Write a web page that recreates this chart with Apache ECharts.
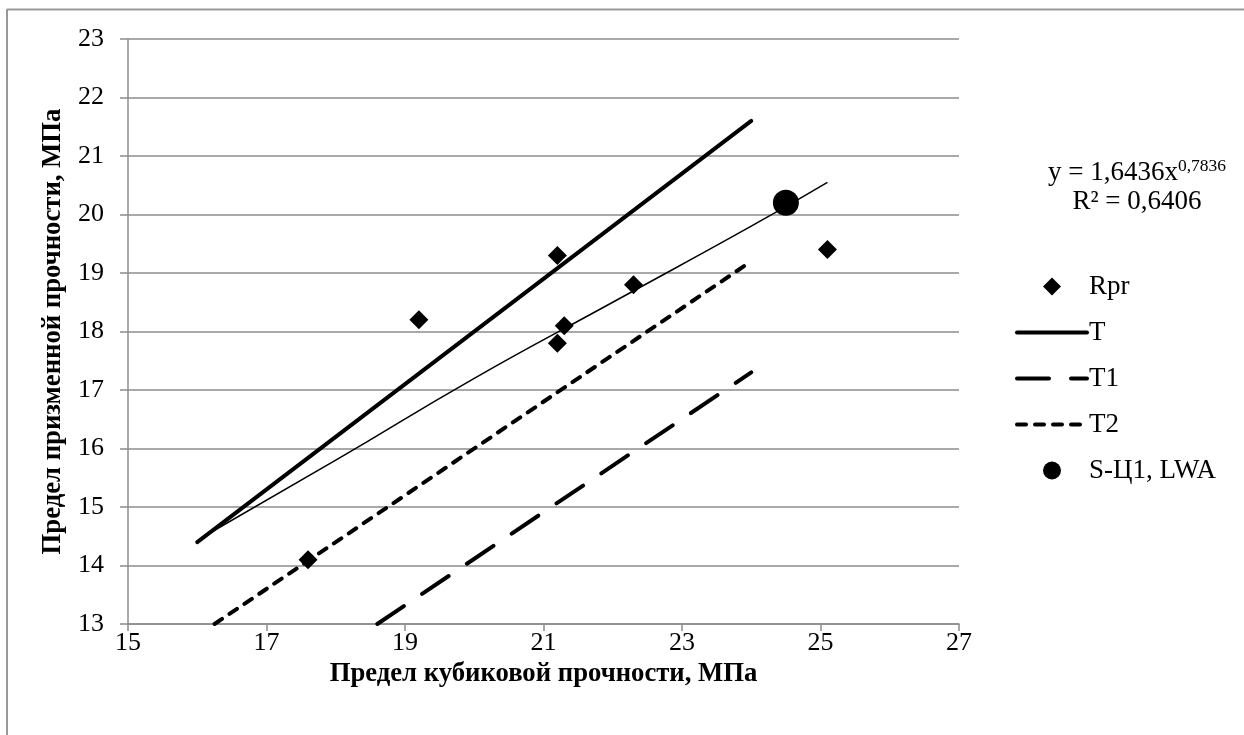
<!DOCTYPE html>
<html>
<head>
<meta charset="utf-8">
<script src="https://cdn.jsdelivr.net/npm/echarts@6/dist/echarts.min.js"></script>
<style>
  html, body { margin: 0; padding: 0; background: #fff; }
  #myChart { width: 1244px; height: 735px; }
</style>
</head>
<body>
<div id="myChart"></div>
<script>
// точки Rpr (куб / призма)
var rprData = [[17.6, 14.1], [19.2, 18.2], [21.2, 19.3], [21.3, 18.1], [21.2, 17.8], [22.3, 18.8], [25.1, 19.4]];
// линии T, T1, T2 (концы отрезков)
var tData = [[16, 14.4], [24, 21.6]];
var t1Data = [[18.6, 13], [24, 17.3]];
var t2Data = [[16.25, 13], [24, 19.2]];
// степенной тренд, значения
var trendData = [[16.1, 14.5], [18, 15.8], [20, 17.2], [22, 18.5], [24, 19.8], [25.1, 20.55]];
// S-Ц1, LWA
var lwaData = [[24.5, 20.2]];

var xTicks = { min: 15, max: 27, interval: 2 };
var yTicks = { min: 13, max: 23, interval: 1 };

var font = '"Liberation Serif", "Times New Roman", serif';
var gridColor = '#8c8c8c';
var noMarker = { color: 'transparent', borderWidth: 0 };

var tStyle = { color: '#000', width: 4, cap: 'round' };
var t1Style = { color: '#000', width: 4, type: [32, 22], cap: 'round' };
var t2Style = { color: '#000', width: 4, type: [9, 9], cap: 'round' };

var myChart = echarts.init(document.getElementById('myChart'));
var option = {
  animation: false,
  textStyle: { fontFamily: font, color: '#000' },
  grid: { left: 128, top: 39, right: 285, bottom: 111 },
  xAxis: {
    type: 'value',
    min: xTicks.min, max: xTicks.max, interval: xTicks.interval,
    name: 'Предел кубиковой прочности, МПа',
    nameLocation: 'middle',
    nameGap: 26,
    nameTextStyle: { fontFamily: font, fontSize: 26.7, fontWeight: 'bold', color: '#000' },
    axisLine: { show: true, lineStyle: { color: gridColor, width: 1.5 } },
    axisTick: { show: true, length: 7, lineStyle: { color: gridColor, width: 1.5 } },
    axisLabel: { fontFamily: font, fontSize: 26, color: '#000', margin: 6 },
    splitLine: { show: false }
  },
  yAxis: {
    type: 'value',
    min: yTicks.min, max: yTicks.max, interval: yTicks.interval,
    name: 'Предел призменной прочности, МПа',
    nameLocation: 'middle',
    nameGap: 60,
    nameRotate: 90,
    nameTextStyle: { fontFamily: font, fontSize: 26.7, fontWeight: 'bold', color: '#000' },
    axisLine: { show: true, lineStyle: { color: gridColor, width: 1.5 } },
    axisTick: { show: true, length: 8, lineStyle: { color: gridColor, width: 1.5 } },
    axisLabel: { fontFamily: font, fontSize: 26, color: '#000', margin: 24 },
    splitLine: { show: true, lineStyle: { color: gridColor, width: 1.5 } }
  },
  legend: {
    orient: 'vertical',
    left: 1010,
    top: 268,
    itemWidth: 70,
    itemHeight: 18,
    itemGap: 19,
    textStyle: { fontFamily: font, fontSize: 27, color: '#000', padding: [0, 0, 0, -3] },
    data: [
      { name: 'Rpr', icon: 'path://M0,-1L1,0L0,1L-1,0Z' },
      { name: 'T', itemStyle: noMarker, lineStyle: tStyle },
      { name: 'T1', itemStyle: noMarker, lineStyle: t1Style },
      { name: 'T2', itemStyle: noMarker, lineStyle: t2Style },
      { name: 'S-Ц1, LWA', icon: 'circle' }
    ]
  },
  graphic: [
    { type: 'line', shape: { x1: 7, y1: 9.5, x2: 1244, y2: 9.5 }, style: { stroke: '#999', lineWidth: 2 } },
    { type: 'line', shape: { x1: 7, y1: 9, x2: 7, y2: 735 }, style: { stroke: '#999', lineWidth: 2 } },
    {
      type: 'text', x: 1137, y: 173,
      style: {
        text: '{b|y = 1,6436x}{s|0,7836}',
        align: 'center', verticalAlign: 'middle',
        rich: {
          b: { fontFamily: font, fontSize: 27, fill: '#000' },
          s: { fontFamily: font, fontSize: 17.5, fill: '#000', padding: [0, 0, 14, 0] }
        }
      }
    },
    {
      type: 'text', x: 1137, y: 202,
      style: { text: 'R² = 0,6406', font: '27px ' + font, fill: '#000', align: 'center', verticalAlign: 'middle' }
    }
  ],
  series: [
    {
      name: 'trend',
      type: 'line',
      data: trendData,
      symbol: 'none',
      smooth: true,
      lineStyle: { color: '#000', width: 1.5 },
      z: 3
    },
    {
      name: 'T',
      type: 'line',
      data: tData,
      symbol: 'none',
      lineStyle: tStyle,
      itemStyle: { color: '#000' },
      z: 3
    },
    {
      name: 'T1',
      type: 'line',
      data: t1Data,
      symbol: 'none',
      lineStyle: t1Style,
      itemStyle: { color: '#000' },
      z: 3
    },
    {
      name: 'T2',
      type: 'line',
      data: t2Data,
      symbol: 'none',
      lineStyle: t2Style,
      itemStyle: { color: '#000' },
      z: 3
    },
    {
      name: 'Rpr',
      type: 'scatter',
      data: rprData,
      symbol: 'diamond',
      symbolSize: 19,
      itemStyle: { color: '#000', opacity: 1 },
      z: 4
    },
    {
      name: 'S-Ц1, LWA',
      type: 'scatter',
      data: lwaData,
      symbol: 'circle',
      symbolSize: 26,
      itemStyle: { color: '#000', opacity: 1 },
      z: 4
    }
  ]
};
myChart.setOption(option, true);
</script>
</body>
</html>
